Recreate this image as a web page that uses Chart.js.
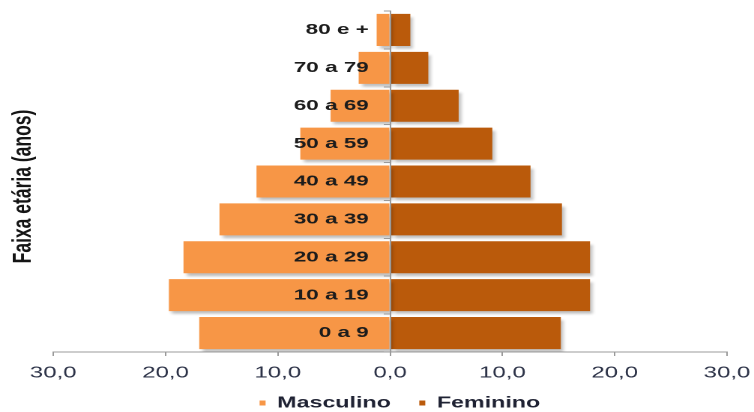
<!DOCTYPE html>
<html>
<head>
<meta charset="utf-8">
<script src="https://cdn.jsdelivr.net/npm/chart.js@4/dist/chart.umd.min.js"></script>
<style>
  html, body { margin: 0; padding: 0; background: #fff; overflow: hidden; }
  /* the chart is laid out narrow and widened, giving the broad lettering */
  #wrap {
    position: absolute; left: 0; top: 0;
    width: 503px; height: 412px;
    transform: scaleX(1.49901); transform-origin: 0 0;
  }
</style>
</head>
<body>
<div id="wrap"><canvas id="piramide"></canvas></div>
<script>
// Age groups, oldest at the top
const faixas = ['80 e +', '70 a 79', '60 a 69', '50 a 59', '40 a 49', '30 a 39', '20 a 29', '10 a 19', '0 a 9'];
// Share of population (%) by sex
const masculino = [1.2, 2.8, 5.3, 8.0, 11.9, 15.2, 18.4, 19.7, 17.0];
const feminino  = [1.8, 3.4, 6.1, 9.1, 12.5, 15.3, 17.8, 17.8, 15.2];
// Horizontal axis range and step
const xMin = -30, xMax = 30, xStep = 10;
// Where the age-group labels end, just left of the zero line
const rotuloX = -1.9;

const FONT = "'Liberation Sans', Arial, sans-serif";

// soft drop shadow behind the bars
const barShadow = {
  id: 'barShadow',
  beforeDatasetsDraw(chart) {
    const ctx = chart.ctx;
    ctx.save();
    ctx.shadowColor = 'rgba(0,0,0,0.26)';
    ctx.shadowBlur = 5;
    ctx.shadowOffsetX = 4;
    ctx.shadowOffsetY = 6;
  },
  afterDatasetsDraw(chart) {
    chart.ctx.restore();
  }
};

// small placement tweaks for the legend and the side title after layout
const nudge = {
  id: 'nudge',
  afterLayout(chart, args, opts) {
    const lg = chart.legend;
    if (lg) {
      lg.left += opts.legendDx; lg.right += opts.legendDx;
      lg.top += opts.legendDy; lg.bottom += opts.legendDy;
    }
    const t = chart.scales.yTitulo;
    if (t) { t.top += opts.titleDy; t.bottom += opts.titleDy; }
  }
};

new Chart(document.getElementById('piramide'), {
  type: 'bar',
  data: {
    labels: faixas,
    datasets: [
      {
        label: 'Masculino',
        data: masculino.map(v => -v),
        backgroundColor: '#F79646',
        borderWidth: 0,
        yAxisID: 'y'
      },
      {
        label: 'Feminino',
        data: feminino,
        backgroundColor: '#BA5A0B',
        borderWidth: 0,
        yAxisID: 'y'
      }
    ]
  },
  plugins: [barShadow, nudge],
  options: {
    indexAxis: 'y',
    responsive: true,
    maintainAspectRatio: false,
    devicePixelRatio: 2,
    animation: false,
    layout: { padding: { top: 11, right: 18, bottom: -16.5, left: 0 } },
    datasets: { bar: { barPercentage: 0.845, categoryPercentage: 1 } },
    scales: {
      x: {
        type: 'linear',
        position: 'bottom',
        stacked: true,
        min: xMin,
        max: xMax,
        grid: { drawOnChartArea: false, drawTicks: true, tickLength: 4, color: '#9a9a9a' },
        border: { color: '#9a9a9a', width: 1 },
        ticks: {
          stepSize: xStep,
          padding: 9,
          color: '#2d3348',
          font: { family: FONT, size: 16, lineHeight: 1 },
          callback: v => Math.abs(v).toFixed(1).replace('.', ',')
        },
        afterFit(scale) {
          scale.height = 32;
          scale.paddingLeft = 0;
          scale.paddingRight = 0;
        }
      },
      // zero line with tick marks between the age groups
      y: {
        type: 'category',
        stacked: true,
        position: { x: 0 },
        grid: { display: true, drawOnChartArea: false, drawTicks: true, tickLength: 4, offset: true, color: '#9a9a9a', z: 1 },
        border: { color: '#9a9a9a', width: 1, z: 1 },
        ticks: { display: false }
      },
      // age-group labels, set inside the male bars
      yRotulos: {
        type: 'category',
        axis: 'y',
        offset: true,
        position: { x: rotuloX },
        grid: { display: false, drawTicks: false },
        border: { display: false },
        ticks: {
          z: 1,
          padding: 0,
          color: '#1c1c1c',
          font: { family: FONT, size: 15, weight: 'bold' }
        }
      },
      yTitulo: {
        type: 'linear',
        axis: 'y',
        position: 'left',
        grid: { display: false, drawTicks: false },
        border: { display: false },
        ticks: { display: false },
        title: {
          display: true,
          text: 'Faixa etária (anos)',
          color: '#141414',
          font: { family: FONT, size: 17.5, weight: 'bold' },
          padding: { top: 5, bottom: 9.5 }
        }
      }
    },
    plugins: {
      tooltip: { enabled: false },
      nudge: { legendDx: 6.5, legendDy: -7.75, titleDy: 5 },
      legend: {
        position: 'bottom',
        fullSize: false,
        labels: {
          boxWidth: 4,
          boxHeight: 5,
          padding: 19,
          color: '#1f2233',
          font: { family: FONT, size: 15.5, weight: 'bold' },
          generateLabels(chart) {
            return Chart.defaults.plugins.legend.labels.generateLabels(chart)
              .map(item => Object.assign(item, { lineWidth: 0 }));
          }
        }
      }
    }
  }
});
</script>
</body>
</html>
